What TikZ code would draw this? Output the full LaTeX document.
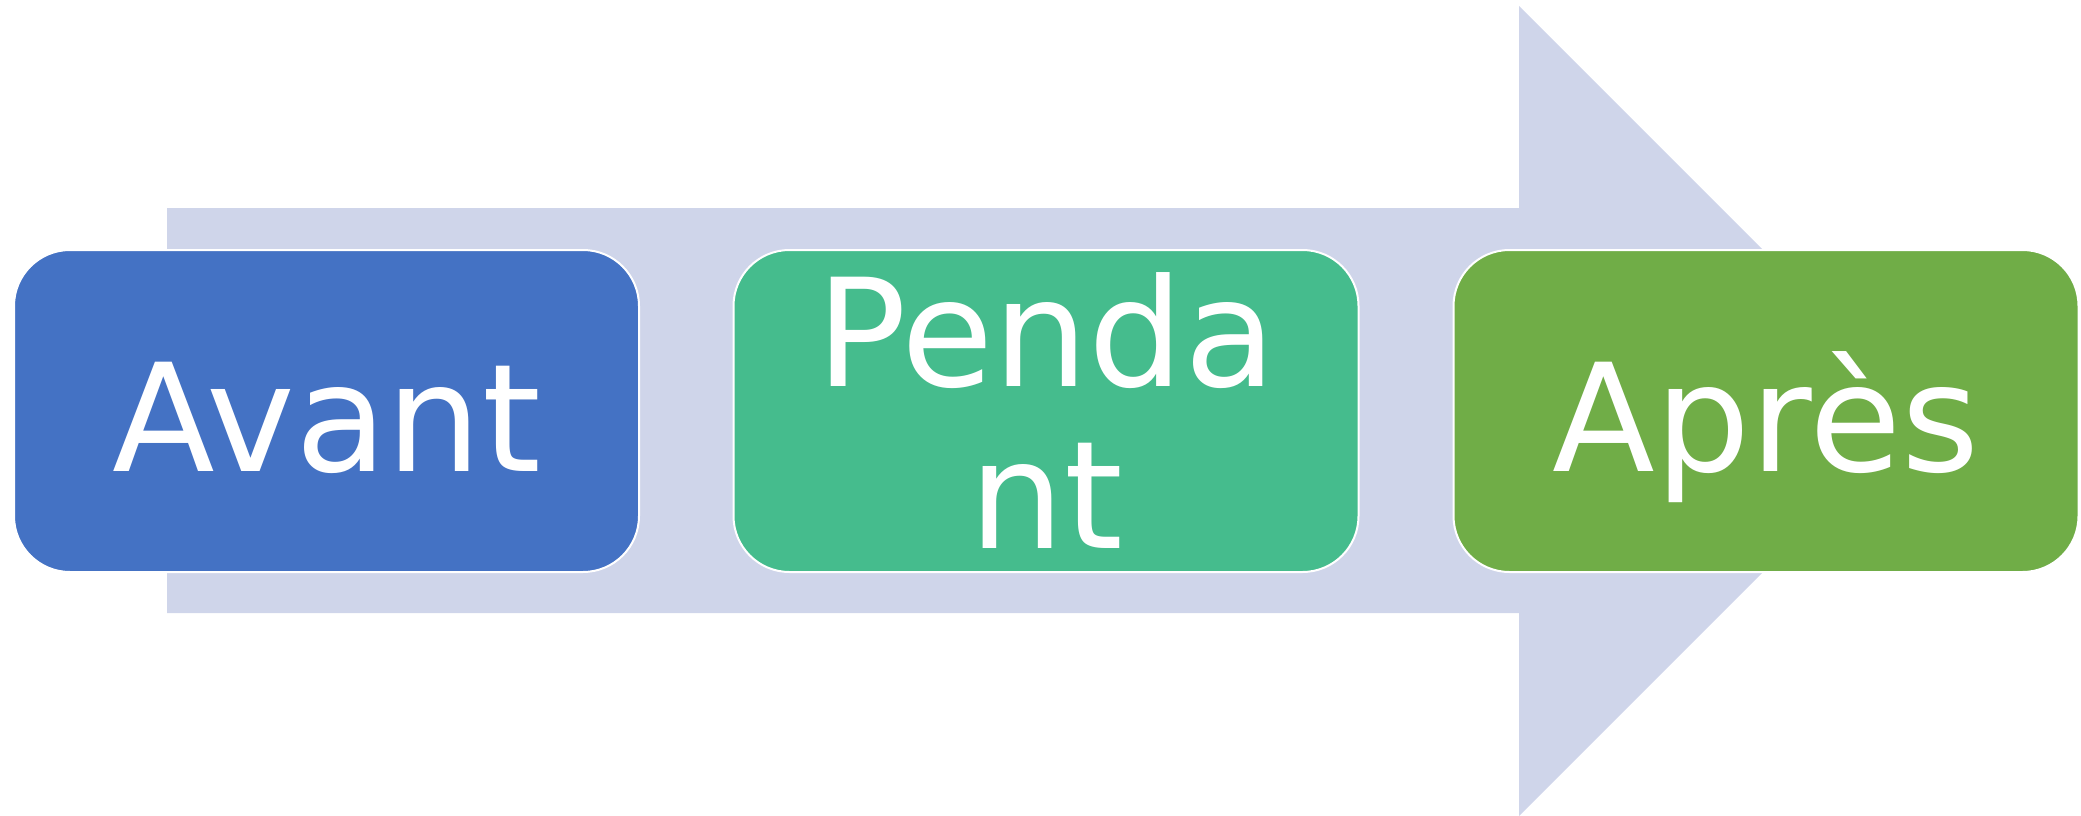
\documentclass[tikz,border=0pt]{standalone}
\usepackage{fontspec}
\setmainfont{DejaVu Sans}
\definecolor{shaftcol}{HTML}{CFD5EA}
\definecolor{bluebox}{HTML}{4472C4}
\definecolor{tealbox}{HTML}{45BC8D}
\definecolor{greenbox}{HTML}{70AD47}
\tikzset{
  stage/.style={draw=white, line width=2pt, rounded corners=56pt,
    minimum width=625pt, minimum height=322pt, inner sep=0pt,
    text=white, font=\fontsize{150}{162}\selectfont, align=center},
  oneline/.style={text height=120pt, text depth=0pt}
}
\begin{document}
\begin{tikzpicture}[x=1pt,y=-1pt]
\useasboundingbox (0,0) rectangle (2081,816);
% big arrow
\fill[shaftcol] (167,208) -- (1519,208) -- (1519,6) -- (1924,411)
  -- (1519,816) -- (1519,613) -- (167,613) -- cycle;
% stages
\node[stage, oneline, fill=bluebox] (avant) at (326.5,411) {Avant};
\node[stage, fill=tealbox] (pendant) at (1046,411) {Penda\\nt};
\node[stage, oneline, fill=greenbox] (apres) at (1766,411) {Après};
\end{tikzpicture}
\end{document}
